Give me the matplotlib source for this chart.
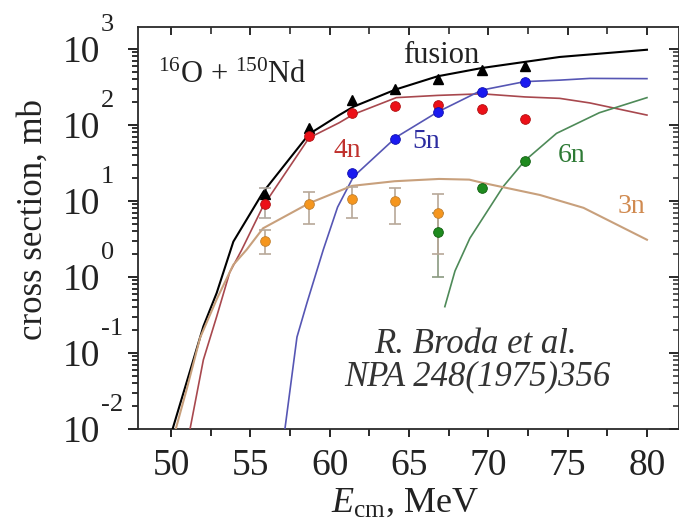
import matplotlib
matplotlib.use('Agg')
import matplotlib.pyplot as plt
from matplotlib.collections import LineCollection
from matplotlib.transforms import blended_transform_factory
from matplotlib.ticker import FuncFormatter, NullFormatter, MultipleLocator, LogLocator, FixedLocator

plt.rcParams['font.family'] = 'Liberation Serif'
plt.rcParams['mathtext.fontset'] = 'custom'
plt.rcParams['mathtext.rm'] = 'Liberation Serif'
plt.rcParams['mathtext.it'] = 'Liberation Serif:italic'

# measured points (mb)
e_pts = [55.9, 58.7, 61.4, 64.1, 66.8, 69.6, 72.3]
fus_pts = [12.4, 91, 213, 298, 403, 530, 598]
n4_pts = [9.1, 72, 144, 178, 183, 163, 120]
e5_pts = [61.4, 64.1, 66.8, 69.6, 72.3]
n5_pts = [23.4, 65, 148, 271, 370]
e6_pts = [66.8, 69.6, 72.3]
n6_pts = [3.9, 14.9, 34]
e3_pts = [55.9, 58.7, 61.4, 64.1, 66.8]
n3_pts = [3.0, 9.1, 10.7, 10.0, 7.0]
n3_lo = [2.0, 5.0, 6.0, 5.0, 2.0]
n3_hi = [4.15, 13.1, 15.2, 14.8, 12.3]
n4_err_e = [55.9]
n4_err_lo = [6.0]
n4_err_hi = [14.8]
n6_err_e = [66.8]
n6_err_lo = [1.0]
n6_err_hi = [7.0]

# calculations
e_fus = [50.1, 51.41, 52.04, 52.88, 53.93, 55.82, 58.7, 60.6, 61.5, 64.2, 66.8, 69.6, 72.3, 74.5, 80]
fus = [0.01, 0.0813, 0.224, 0.617, 2.92, 13.2, 75.9, 135, 174, 295, 437, 562, 676, 785, 977]
e_4n = [51.2, 52.04, 52.88, 53.7, 54.45, 55.8, 58.7, 60.6, 61.5, 64.2, 66.8, 69.6, 72.3, 74.5, 76.4, 80]
c4n = [0.01, 0.0813, 0.302, 1.15, 2.26, 8.51, 67.6, 107, 138, 229, 245, 257, 234, 224, 195, 135]
e_5n = [57.18, 57.94, 58.57, 59.6, 60.5, 61.5, 64.2, 66.8, 69.6, 72.3, 74.5, 76.4, 80]
c5n = [0.01, 0.162, 0.457, 2.29, 8.3, 20.9, 69.2, 148, 288, 372, 389, 410, 407]
e_6n = [67.26, 67.9, 68.84, 70.94, 72.3, 74.3, 77.0, 80]
c6n = [0.407, 1.2, 3.24, 15.5, 33.9, 77.6, 145, 229]
e_3n = [50.3, 51.0, 51.83, 52.9, 53.93, 54.77, 55.8, 58.7, 61.4, 64.1, 66.9, 68.8, 69.6, 73.25, 76.0, 80]
c3n = [0.01, 0.034, 0.158, 0.52, 1.45, 2.29, 4.37, 9.33, 15.8, 18.2, 19.5, 19.1, 17.4, 12.0, 8.13, 3.09]

y_decades = [1e-2, 1e-1, 1e0, 1e1, 1e2, 1e3]
y_exps = ['-2', '-1', '0', '1', '2', '3']
x_ticks = [50, 55, 60, 65, 70, 75, 80]

W, H = 679, 529
fig = plt.figure(figsize=(W / 100, H / 100), dpi=100)
ax = fig.add_axes([138 / W, 100 / H, 541 / W, 402 / H])
ax.set_yscale('log')
ax.set_xlim(47.92, 82.02)
ax.set_ylim(0.01, 1946)

ax.plot(e_fus, fus, color='black', lw=1.5, zorder=3)
ax.plot(e_4n, c4n, color='#a8484e', lw=1.2, zorder=3)
ax.plot(e_5n, c5n, color='#5656b4', lw=1.2, zorder=3)
ax.plot(e_6n, c6n, color='#4e8a58', lw=1.2, zorder=3)
ax.plot(e_3n, c3n, color='#c8a07c', lw=1.5, zorder=3)

def err(vals, lo, hi):
    return [[v - l for v, l in zip(vals, lo)], [h - v for v, h in zip(vals, hi)]]

ax.errorbar(n4_err_e, [9.1], yerr=err([9.1], n4_err_lo, n4_err_hi), fmt='none',
            ecolor='#b0a8a0', elinewidth=1.2, capsize=4, capthick=1.2, zorder=4)
ax.errorbar(n6_err_e, [3.9], yerr=err([3.9], n6_err_lo, n6_err_hi), fmt='none',
            ecolor='#8a9a80', elinewidth=1.2, capsize=4, capthick=1.2, zorder=4)
ax.errorbar(e3_pts, n3_pts, yerr=err(n3_pts, n3_lo, n3_hi), fmt='none',
            ecolor='#b8a898', elinewidth=1.2, capsize=4, capthick=1.2, zorder=4)

ms = 7
ax.plot(e_pts, fus_pts, '^', color='black', ms=ms, zorder=5)
ax.plot(e_pts, n4_pts, 'o', mfc='#ec1018', mec='#b01010', mew=0.6, ms=ms, zorder=6)
ax.plot(e5_pts, n5_pts, 'o', mfc='#1a1af0', mec='#1010b0', mew=0.6, ms=ms, zorder=6)
ax.plot(e6_pts, n6_pts, 'o', mfc='#1e8a1e', mec='#106010', mew=0.6, ms=ms, zorder=6)
ax.plot(e3_pts, n3_pts, 'o', mfc='#f5961e', mec='#c08030', mew=0.6, ms=ms, zorder=6)

# axes styling
for s in ax.spines.values():
    s.set_linewidth(1.3)
    s.set_color('#2a2a2a')
ax.xaxis.set_major_locator(FixedLocator(x_ticks))
ax.xaxis.set_minor_locator(MultipleLocator(2.5))
ax.yaxis.set_major_locator(FixedLocator(y_decades))
ax.yaxis.set_minor_locator(LogLocator(base=10, subs=[2, 3, 4, 5, 6, 7, 8, 9], numticks=30))
ax.yaxis.set_major_formatter(FuncFormatter(lambda v, p: '10'))
ax.yaxis.set_minor_formatter(NullFormatter())
ax.tick_params(axis='both', which='both', direction='out', color='#2a2a2a',
               labelsize=27, labelcolor='#222222')
ax.tick_params(axis='y', which='major', length=7, width=1.4, pad=20)
ax.tick_params(axis='y', which='minor', length=4.5, width=1.1)
ax.tick_params(axis='x', which='major', length=6, width=1.4, pad=8)
ax.tick_params(axis='x', which='minor', length=5, width=1.2)

# tick marks on all four sides as plain segments (out on left/bottom, in on top/right)
ylo, yhi = ax.get_ylim()
xlo, xhi = ax.get_xlim()
ymaj = [v for v in ax.yaxis.get_majorticklocs() if ylo <= v <= yhi]
ymin = [v for v in ax.yaxis.get_minorticklocs() if ylo <= v <= yhi]
xmaj = [v for v in ax.xaxis.get_majorticklocs() if xlo <= v <= xhi]
xmin = [v for v in ax.xaxis.get_minorticklocs() if xlo <= v <= xhi]
aw, ah = 541.0, 402.0          # axes size in pixels
ty = blended_transform_factory(ax.transAxes, ax.transData)
tx = blended_transform_factory(ax.transData, ax.transAxes)
for locs, L, lw in ((ymaj, 9.7, 1.4), (ymin, 6.2, 1.1)):
    segs = [[(0, v), (-L / aw, v)] for v in locs] + [[(1, v), (1 - L / aw, v)] for v in locs]
    ax.add_collection(LineCollection(segs, colors='#2a2a2a', linewidths=lw,
                                     transform=ty, clip_on=False, zorder=2.6), autolim=False)
for locs, L, lw in ((xmaj, 8.3, 1.4), (xmin, 7.0, 1.2)):
    segs = [[(v, 0), (v, -L / ah)] for v in locs] + [[(v, 1), (v, 1 - L / ah)] for v in locs]
    ax.add_collection(LineCollection(segs, colors='#2a2a2a', linewidths=lw,
                                     transform=tx, clip_on=False, zorder=2.6), autolim=False)

for v, e in zip(y_decades, y_exps):
    ax.annotate(e, xy=(0, v), xycoords=('axes fraction', 'data'),
                xytext=(-26.6, 17.5), textcoords='offset points',
                ha='left', va='center', fontsize=19, color='#222222',
                annotation_clip=False)

def px(x, y):
    return x / W, 1 - y / H

fig.text(*px(33, 220), 'cross section, mb', rotation=90, ha='center', va='center',
         fontsize=25, color='#222222')
fig.text(*px(405, 512), r'$E_{\rm cm}$, MeV', ha='center', va='baseline',
         fontsize=26, color='#222222')

fig.text(*px(158, 83), r'$^{16}$O + $^{150}$Nd', ha='left', va='baseline',
         fontsize=22, color='#222222')
fig.text(*px(403, 63), 'fusion', ha='left', va='baseline', fontsize=22, color='#222222')
fig.text(*px(333, 157), '4n', ha='left', va='baseline', fontsize=20, color='#c0302c')
fig.text(*px(412, 148), '5n', ha='left', va='baseline', fontsize=20, color='#2c2ca0')
fig.text(*px(558, 162), '6n', ha='left', va='baseline', fontsize=20, color='#2e7a35')
fig.text(*px(618, 213), '3n', ha='left', va='baseline', fontsize=20, color='#d08a50')
fig.text(*px(476, 353), 'R. Broda et al.', ha='center', va='baseline',
         fontsize=25, style='italic', color='#333333')
fig.text(*px(477, 385), 'NPA 248(1975)356', ha='center', va='baseline',
         fontsize=25, style='italic', color='#333333')

fig.savefig('out.png', dpi=100)
